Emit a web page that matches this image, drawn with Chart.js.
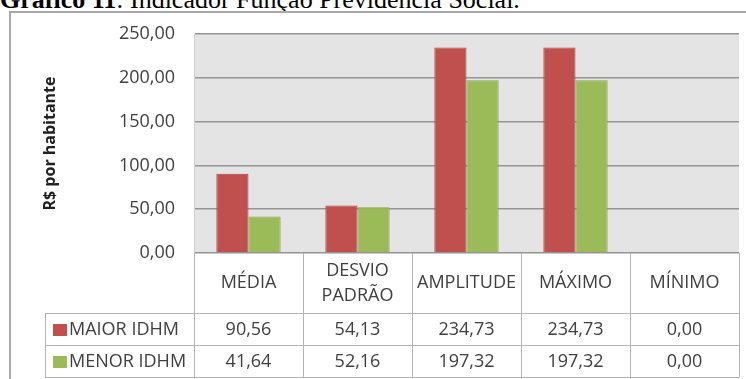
<!DOCTYPE html>
<html>
<head>
<meta charset="utf-8">
<script src="https://cdn.jsdelivr.net/npm/chart.js@4.4.1/dist/chart.umd.min.js"></script>
<style>
  body { margin: 0; background: #fff; overflow: hidden; }
  #wrap { position: relative; width: 746px; height: 379px; overflow: hidden; }
  #title {
    position: absolute; left: 0; top: -13px; white-space: nowrap; color: #000;
    font-family: 'Liberation Serif', 'Times New Roman', serif; font-size: 26px; line-height: 26px;
  }
  #frame {
    position: absolute; left: 9px; top: 11px; width: 800px; height: 400px;
    border-left: 2px solid #a8a8a8; border-top: 2px solid #a8a8a8;
  }
  canvas { position: absolute; left: 0; top: 0; }
</style>
</head>
<body>
<div id="wrap">
  <div id="title"><b>Gráfico 11</b>: Indicador Função Previdência Social.</div>
  <div id="frame"></div>
  <canvas id="chart" width="746" height="379"></canvas>
</div>
<script>
// data (the table under the chart gives the exact values)
const categories = ['MÉDIA', ['DESVIO', 'PADRÃO'], 'AMPLITUDE', 'MÁXIMO', 'MÍNIMO'];
const seriesNames = ['MAIOR IDHM', 'MENOR IDHM'];
const maiorIdhm = [90.56, 54.13, 234.73, 234.73, 0.00];
const menorIdhm = [41.64, 52.16, 197.32, 197.32, 0.00];
const yTickLabels = ['0,00', '50,00', '100,00', '150,00', '200,00', '250,00'];
const yTitle = 'R$ por habitante';

const colors = ['#C0504D', '#9BBB59'];
const borders = ['#a8403d', '#86a548'];
const textColor = '#404040';
const lineColor = '#b4b4b4';
const fontFamily = "'Open Sans', sans-serif";

function fmt(v) {
  return v.toFixed(2).replace('.', ',');
}

const tablePlugin = {
  id: 'dataTable',
  beforeDraw(chart) {
    const {ctx, chartArea} = chart;
    ctx.save();
    ctx.fillStyle = '#e4e4e4';
    ctx.fillRect(chartArea.left, chartArea.top, chartArea.right - chartArea.left, chartArea.bottom - chartArea.top);
    ctx.restore();
  },
  afterDraw(chart) {
    const {ctx, chartArea} = chart;
    const x = chart.scales.x;
    const n = categories.length;
    const colW = (x.right - x.left) / n;
    const top = chartArea.bottom;
    const headerBottom = top + 60;
    const rowH = 32;
    const bottom = headerBottom + rowH * 2;
    const tableLeft = 45;

    ctx.save();
    ctx.strokeStyle = lineColor;
    ctx.lineWidth = 1;
    ctx.beginPath();
    // vertical column lines
    for (let i = 0; i <= n; i++) {
      const px = Math.round(x.left + colW * i) + 0.5;
      ctx.moveTo(px, top);
      ctx.lineTo(px, bottom);
    }
    // row lines
    for (let r = 0; r <= 2; r++) {
      const py = headerBottom + rowH * r + 0.5;
      ctx.moveTo(tableLeft, py);
      ctx.lineTo(x.right, py);
    }
    ctx.moveTo(tableLeft + 0.5, headerBottom);
    ctx.lineTo(tableLeft + 0.5, bottom);
    ctx.stroke();

    ctx.fillStyle = textColor;
    ctx.font = '18px ' + fontFamily;
    ctx.textAlign = 'center';
    ctx.textBaseline = 'middle';
    // header labels
    categories.forEach((label, i) => {
      const cx = x.getPixelForValue(i);
      const lines = Array.isArray(label) ? label : [label];
      const lh = 25;
      const y0 = (top + headerBottom) / 2 - (lines.length - 1) * lh / 2;
      lines.forEach((line, k) => ctx.fillText(line, cx, y0 + k * lh));
    });
    // series rows
    const rows = [maiorIdhm, menorIdhm];
    rows.forEach((vals, r) => {
      const cy = headerBottom + rowH * r + rowH / 2 + 1;
      vals.forEach((v, i) => {
        ctx.fillText(fmt(v), x.getPixelForValue(i), cy);
      });
      ctx.fillStyle = colors[r];
      ctx.fillRect(53, cy - 6, 14, 12);
      ctx.fillStyle = textColor;
      ctx.textAlign = 'left';
      ctx.fillText(seriesNames[r], 69, cy);
      ctx.textAlign = 'center';
    });
    ctx.restore();
  }
};

const ctx = document.getElementById('chart');
new Chart(ctx, {
  type: 'bar',
  data: {
    labels: categories,
    datasets: [
      {label: seriesNames[0], data: maiorIdhm, backgroundColor: colors[0], borderColor: borders[0], borderWidth: 1},
      {label: seriesNames[1], data: menorIdhm, backgroundColor: colors[1], borderColor: borders[1], borderWidth: 1}
    ]
  },
  options: {
    responsive: false,
    animation: false,
    devicePixelRatio: 1,
    layout: {padding: {top: 34, right: 7, bottom: 126, left: 0}},
    plugins: {legend: {display: false}, tooltip: {enabled: false}},
    datasets: {bar: {categoryPercentage: 0.59, barPercentage: 1}},
    scales: {
      x: {display: false},
      y: {
        min: 0,
        max: 250,
        afterFit(scale) { scale.width = 194; },
        ticks: {
          stepSize: 50,
          padding: 19,
          color: textColor,
          font: {family: fontFamily, size: 18},
          callback: (value, index) => yTickLabels[index]
        },
        grid: {color: '#959595', lineWidth: 1.5, drawTicks: false},
        border: {display: true, color: '#cfcfcf', width: 1},
        title: {
          display: true,
          text: yTitle,
          color: '#222',
          font: {family: fontFamily, size: 16, weight: 'bold'},
          padding: {top: 41, bottom: 0}
        }
      }
    }
  },
  plugins: [tablePlugin]
});
</script>
</body>
</html>
